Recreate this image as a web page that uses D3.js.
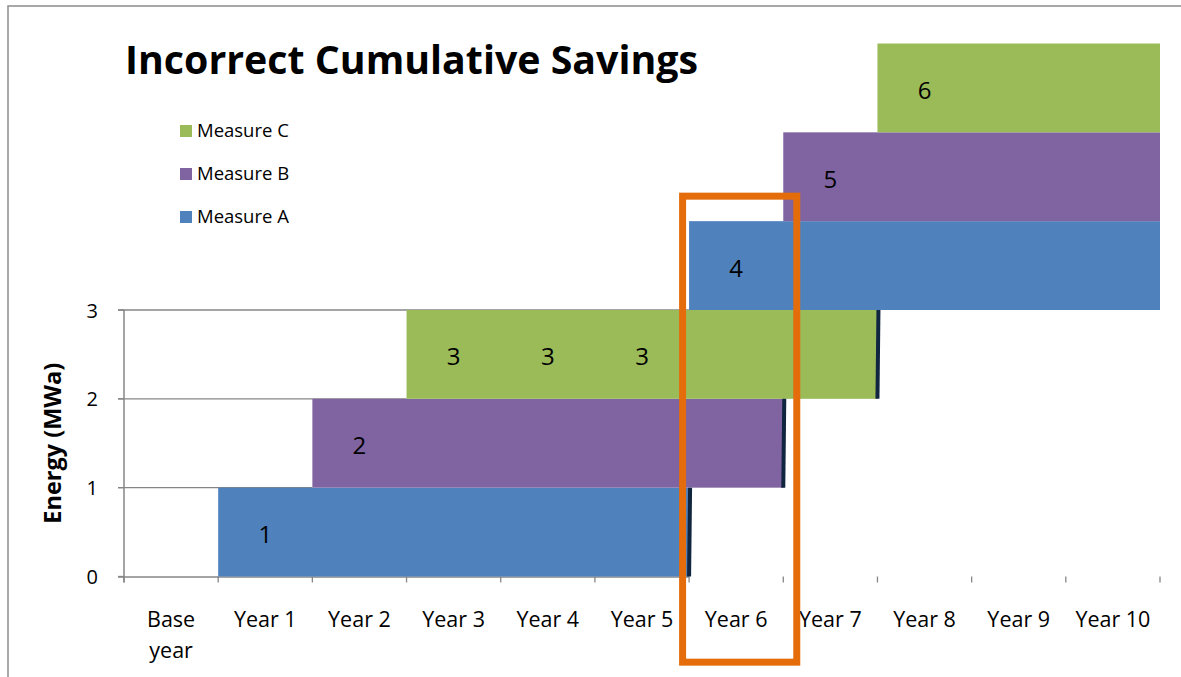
<!DOCTYPE html>
<html>
<head>
<meta charset="utf-8">
<script src="https://cdn.jsdelivr.net/npm/d3@7"></script>
<style>
  body { margin: 0; background: #fff; }
  text { font-family: "Open Sans", sans-serif; fill: #000; }
</style>
</head>
<body>
<div id="chart"></div>
<script>
// categories on the x axis
var categories = ["Base year", "Year 1", "Year 2", "Year 3", "Year 4", "Year 5",
  "Year 6", "Year 7", "Year 8", "Year 9", "Year 10"];

var measures = ["Measure A", "Measure B", "Measure C"];
var measureColors = ["#4f81bd", "#8064a2", "#9bbb59"];

// savings blocks, one entry each
var blockLabel = ["1", "2", "3", "4", "5", "6"];
var blockMeasure = ["Measure A", "Measure B", "Measure C", "Measure A", "Measure B", "Measure C"];
var blockStart = ["Year 1", "Year 2", "Year 3", "Year 6", "Year 7", "Year 8"];
var blockEnd = ["Year 5", "Year 6", "Year 7", "Year 10", "Year 10", "Year 10"];
var blockBase = [0, 1, 2, 3, 4, 5];
var blockValue = [1, 1, 1, 1, 1, 1];
// years where the block number is written
var blockLabelYears = [["Year 1"], ["Year 2"], ["Year 3", "Year 4", "Year 5"], ["Year 6"], ["Year 7"], ["Year 8"]];

var yTicks = [0, 1, 2, 3];
var highlightYear = "Year 6";

(function() {
  var width = 1181, height = 677;

  var svg = d3.select("#chart")
    .append("svg")
    .attr("width", width)
    .attr("height", height);

  // outer chart border (only top and left show)
  svg.append("path")
    .attr("d", "M8,677 L8,6 L1181,6")
    .attr("fill", "none")
    .attr("stroke", "#8c8c8c")
    .attr("stroke-width", 1.5);

  var x = d3.scaleBand()
    .domain(categories)
    .range([124, 1160])
    .paddingInner(0)
    .paddingOuter(0);

  var y = d3.scaleLinear()
    .domain([0, 6])
    .range([576.5, 43.5]);

  var colorScale = d3.scaleOrdinal().domain(measures).range(measureColors);

  var blocks = blockLabel.map(function(d, i) {
    return {
      label: d,
      measure: blockMeasure[i],
      start: blockStart[i],
      end: blockEnd[i],
      base: blockBase[i],
      value: blockValue[i],
      labelYears: blockLabelYears[i]
    };
  });

  var x0 = x.range()[0];
  var xEnd = function(cat) { return x(cat) + x.bandwidth(); };

  // gridlines stop where the first block on that level starts
  var gridG = svg.append("g").attr("class", "grid");
  yTicks.forEach(function(t) {
    if (t === 0) return;
    var b = blocks.filter(function(d) { return d.base === t; })[0];
    gridG.append("line")
      .attr("x1", x0 - 6)
      .attr("x2", b ? x(b.start) : x.range()[1])
      .attr("y1", y(t))
      .attr("y2", y(t))
      .attr("stroke", "#868686")
      .attr("stroke-width", 1.3);
  });

  // x axis line under the first block
  svg.append("line")
    .attr("x1", x0 - 6)
    .attr("x2", xEnd(blocks[0].end))
    .attr("y1", y(0) + 0.5)
    .attr("y2", y(0) + 0.5)
    .attr("stroke", "#868686")
    .attr("stroke-width", 1.5);

  // x ticks at the band edges
  var edges = categories.map(function(c) { return x(c); }).concat([x.range()[1]]);
  svg.selectAll(".xtick")
    .data(edges)
    .enter().append("line")
    .attr("class", "xtick")
    .attr("x1", function(d) { return d; })
    .attr("x2", function(d) { return d; })
    .attr("y1", y(0))
    .attr("y2", y(0) + 6)
    .attr("stroke", "#868686")
    .attr("stroke-width", 1.3);

  // y axis
  svg.append("line")
    .attr("x1", x0).attr("x2", x0)
    .attr("y1", y(3)).attr("y2", y(0) + 6)
    .attr("stroke", "#868686")
    .attr("stroke-width", 1.5);

  svg.selectAll(".ytick")
    .data(yTicks)
    .enter().append("line")
    .attr("class", "ytick")
    .attr("x1", x0 - 6)
    .attr("x2", x0)
    .attr("y1", function(d) { return y(d); })
    .attr("y2", function(d) { return y(d); })
    .attr("stroke", "#868686")
    .attr("stroke-width", 1.3);

  svg.selectAll(".ylabel")
    .data(yTicks)
    .enter().append("text")
    .attr("class", "ylabel")
    .attr("x", 98)
    .attr("y", function(d) { return y(d) + 7.5; })
    .attr("text-anchor", "end")
    .style("font-size", "20px")
    .text(function(d) { return d; });

  // blocks
  var g = svg.append("g").attr("class", "blocks");
  g.selectAll("rect")
    .data(blocks)
    .enter().append("rect")
    .attr("x", function(d) { return x(d.start); })
    .attr("width", function(d) { return xEnd(d.end) - x(d.start); })
    .attr("y", function(d) { return y(d.base + d.value); })
    .attr("height", function(d) { return y(d.base) - y(d.base + d.value); })
    .attr("fill", function(d) { return colorScale(d.measure); });

  // dark slanted edge where a block drops out before year 10
  g.selectAll(".edge")
    .data(blocks.filter(function(d) { return d.end !== categories[categories.length - 1]; }))
    .enter().append("path")
    .attr("class", "edge")
    .attr("d", function(d) {
      var xe = xEnd(d.end), yt = y(d.base + d.value), yb = y(d.base);
      return "M" + (xe - 2) + "," + yb + "L" + (xe + 2) + "," + yb +
        "L" + (xe + 3) + "," + yt + "L" + (xe - 1) + "," + yt + "Z";
    })
    .attr("fill", "#10253f");

  // block numbers
  blocks.forEach(function(b) {
    g.selectAll(null)
      .data(b.labelYears)
      .enter().append("text")
      .attr("x", function(d) { return x(d) + x.bandwidth() / 2; })
      .attr("y", y(b.base + b.value / 2) + 11)
      .attr("text-anchor", "middle")
      .style("font-size", "24px")
      .text(b.label);
  });

  // x labels
  svg.selectAll(".xlabel")
    .data(categories)
    .enter().append("text")
    .attr("class", "xlabel")
    .attr("x", function(d) { return x(d) + x.bandwidth() / 2; })
    .attr("y", 627)
    .attr("text-anchor", "middle")
    .style("font-size", "21.5px")
    .each(function(d) {
      var words = d === "Base year" ? ["Base", "year"] : [d];
      var t = d3.select(this);
      words.forEach(function(w, i) {
        t.append("tspan")
          .attr("x", x(d) + x.bandwidth() / 2)
          .attr("dy", i === 0 ? 0 : 31)
          .text(w);
      });
    });

  // y title
  svg.append("text")
    .attr("transform", "translate(61," + y(1.5) + ") rotate(-90)")
    .attr("text-anchor", "middle")
    .style("font-size", "23.5px")
    .style("font-weight", "bold")
    .text("Energy (MWa)");

  // title
  svg.append("text")
    .attr("x", 125)
    .attr("y", 74)
    .attr("textLength", 573)
    .attr("lengthAdjust", "spacingAndGlyphs")
    .style("font-size", "39px")
    .style("font-weight", "bold")
    .text("Incorrect Cumulative Savings");

  // legend, top entry is Measure C
  var legend = svg.selectAll(".legend")
    .data(measures.slice().reverse())
    .enter().append("g")
    .attr("class", "legend")
    .attr("transform", function(d, i) { return "translate(180," + (125 + i * 43) + ")"; });

  legend.append("rect")
    .attr("width", 12)
    .attr("height", 12)
    .attr("fill", function(d) { return colorScale(d); });

  legend.append("text")
    .attr("x", 17)
    .attr("y", 12)
    .style("font-size", "18.5px")
    .text(function(d) { return d; });

  // orange box around the problem year
  svg.append("rect")
    .attr("x", x(highlightYear) - 6.5)
    .attr("y", y(4) - 25)
    .attr("width", x.bandwidth() + 20)
    .attr("height", 466)
    .attr("fill", "none")
    .attr("stroke", "#e46c0a")
    .attr("stroke-width", 7);
})();
</script>
</body>
</html>
